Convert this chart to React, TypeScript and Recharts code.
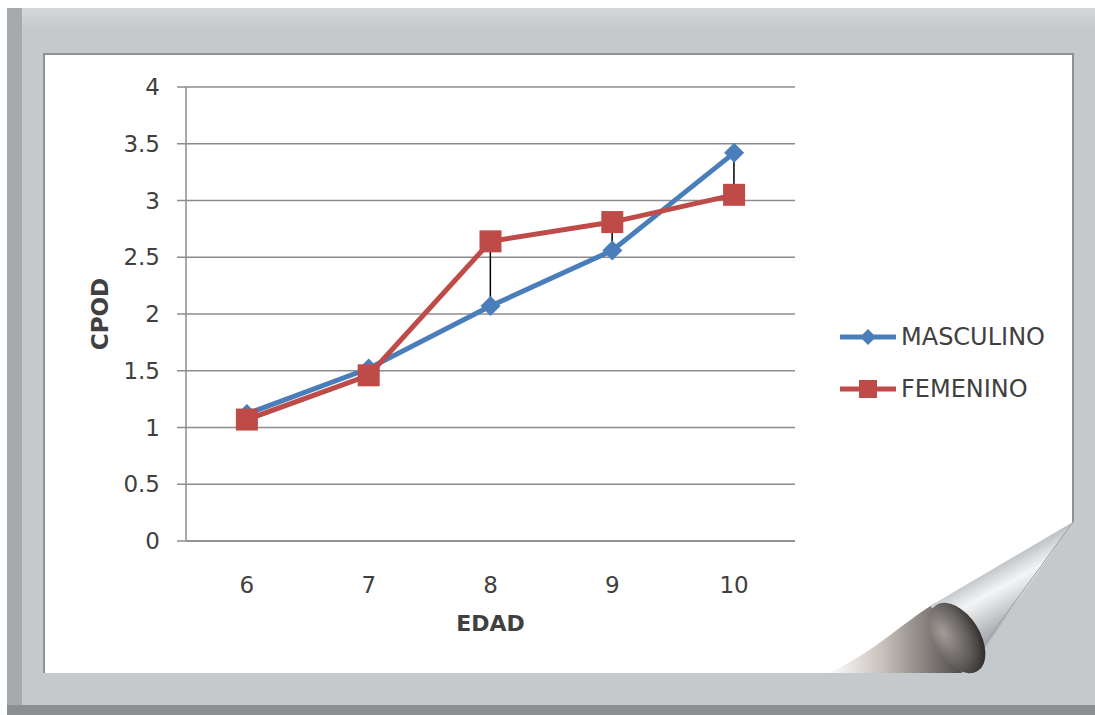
import { ComposedChart, Line, Bar, XAxis, YAxis, CartesianGrid } from "recharts";

const EDADES = ["6", "7", "8", "9", "10"];
const MASCULINO = [1.12, 1.52, 2.07, 2.56, 3.42];
const FEMENINO = [1.07, 1.46, 2.64, 2.81, 3.05];
const Y_TICKS = [0, 0.5, 1, 1.5, 2, 2.5, 3, 3.5, 4];

const COLORS = {
  masc: "#4a7ebb",
  fem: "#be4b48",
  grid: "#8c8c8c",
  text: "#404040",
  frame: "#c6c9cb",
};

const FONT = "'DejaVu Sans', sans-serif";

const data = EDADES.map((edad, i) => ({
  edad,
  masculino: MASCULINO[i],
  femenino: FEMENINO[i],
  rango: [Math.min(MASCULINO[i], FEMENINO[i]), Math.max(MASCULINO[i], FEMENINO[i])],
}));

const Diamond = (props: any) => {
  const { cx, cy, r = 10, fill } = props;
  if (cx == null || cy == null) return null;
  return <polygon points={`${cx},${cy - r} ${cx + r},${cy} ${cx},${cy + r} ${cx - r},${cy}`} fill={fill} />;
};

const Square = (props: any) => {
  const { cx, cy, s = 22, fill } = props;
  if (cx == null || cy == null) return null;
  return <rect x={cx - s / 2} y={cy - s / 2} width={s} height={s} fill={fill} />;
};

const LegendBox = () => {
  const rows = [
    { name: "MASCULINO", color: COLORS.masc, marker: "diamond" },
    { name: "FEMENINO", color: COLORS.fem, marker: "square" },
  ];
  return (
    <div style={{ position: "absolute", left: 838, top: 311, fontFamily: FONT }}>
      {rows.map((row) => (
        <div key={row.name} style={{ display: "flex", alignItems: "center", height: 52 }}>
          <svg width={60} height={26}>
            <line x1={2} y1={13} x2={58} y2={13} stroke={row.color} strokeWidth={5} />
            {row.marker === "diamond" ? (
              <Diamond cx={30} cy={13} r={8} fill={row.color} />
            ) : (
              <Square cx={30} cy={13} s={18} fill={row.color} />
            )}
          </svg>
          <span style={{ fontSize: 24, color: COLORS.text, marginLeft: 3 }}>{row.name}</span>
        </div>
      ))}
    </div>
  );
};

const PageCurl = () => (
  <svg width={1095} height={715} style={{ position: "absolute", left: 0, top: 0, pointerEvents: "none" }}>
    <defs>
      <linearGradient id="tail" x1="0" y1="0" x2="1" y2="0">
        <stop offset="0" stopColor="#ffffff" />
        <stop offset="0.4" stopColor="#c9c2bd" />
        <stop offset="1" stopColor="#4f4b49" />
      </linearGradient>
      <linearGradient id="cone" x1="0.2" y1="0" x2="0.8" y2="1">
        <stop offset="0" stopColor="#6d7174" />
        <stop offset="0.3" stopColor="#a9adb0" />
        <stop offset="0.5" stopColor="#f4f5f6" />
        <stop offset="0.7" stopColor="#b5b8bb" />
        <stop offset="1" stopColor="#7e8184" />
      </linearGradient>
      <radialGradient id="cap" cx="0.3" cy="0.35" r="0.75">
        <stop offset="0" stopColor="#a39d99" />
        <stop offset="0.65" stopColor="#5f5b59" />
        <stop offset="1" stopColor="#2f2d2c" />
      </radialGradient>
    </defs>
    <polygon points="1075,520 1075,674 955,674" fill={COLORS.frame} />
    <path d="M828,673 C870,655 900,625 935,603 L962,673 Z" fill="url(#tail)" />
    <polygon points="1073,522 930,606 982,652" fill="url(#cone)" />
    <line x1={1073} y1={522} x2={964} y2={672} stroke="#9a9da0" strokeWidth={1} />
    <ellipse cx={957} cy={638} rx={23} ry={39} transform="rotate(-32 957 638)" fill="url(#cap)" />
  </svg>
);

export default function App() {
  return (
    <div style={{ position: "absolute", left: 0, top: 0, width: 1095, height: 715, background: "#fff", overflow: "hidden" }}>
      {/* frame */}
      <div style={{ position: "absolute", left: 7, top: 8, width: 1088, height: 707, background: COLORS.frame }} />
      <div style={{ position: "absolute", left: 7, top: 8, width: 1088, height: 18, background: "linear-gradient(#d6d9db, #c8cbcd)" }} />
      <div style={{ position: "absolute", left: 7, top: 8, width: 15, height: 699, background: "#a6a9ab" }} />
      <div style={{ position: "absolute", left: 7, top: 705, width: 1088, height: 10, background: "#8c8f92" }} />
      <div
        style={{
          position: "absolute",
          left: 43,
          top: 53,
          width: 1031,
          height: 620,
          background: "#fff",
          borderTop: "2px solid #8f9294",
          borderLeft: "2px solid #8f9294",
          borderRight: "2px solid #8f9294",
          boxSizing: "border-box",
        }}
      />
      <div style={{ position: "absolute", left: 0, top: 0 }}>
        <ComposedChart
          width={1095}
          height={715}
          data={data}
          margin={{ top: 87, right: 300, bottom: 144, left: 126 }}
          style={{ fontFamily: FONT }}
        >
          <CartesianGrid vertical={false} stroke={COLORS.grid} strokeWidth={1.5} />
          <XAxis
            dataKey="edad"
            scale="band"
            height={30}
            tickLine={false}
            axisLine={{ stroke: COLORS.grid, strokeWidth: 1.5 }}
            tickMargin={30}
            tick={{ fontSize: 23, fill: COLORS.text }}
            label={{
              content: ({ viewBox }: any) => (
                <text
                  x={viewBox.x + viewBox.width / 2}
                  y={viewBox.y + 90}
                  textAnchor="middle"
                  fontSize={22}
                  fontWeight="bold"
                  fill={COLORS.text}
                  fontFamily={FONT}
                >
                  EDAD
                </text>
              ),
            }}
          />
          <YAxis
            width={60}
            domain={[0, 4]}
            ticks={Y_TICKS}
            interval={0}
            tickSize={9}
            tickMargin={17}
            tickLine={{ stroke: COLORS.grid, strokeWidth: 1.5 }}
            axisLine={{ stroke: COLORS.grid, strokeWidth: 1.5 }}
            tick={{ fontSize: 23, fill: COLORS.text }}
            label={{
              content: ({ viewBox }: any) => {
                const x = viewBox.x - 26;
                const y = viewBox.y + viewBox.height / 2;
                return (
                  <text
                    x={x}
                    y={y}
                    transform={`rotate(-90 ${x} ${y})`}
                    textAnchor="middle"
                    dominantBaseline="central"
                    fontSize={23}
                    fontWeight="bold"
                    fill={COLORS.text}
                    fontFamily={FONT}
                  >
                    CPOD
                  </text>
                );
              },
            }}
          />
          <Line
            type="linear"
            dataKey="masculino"
            name="MASCULINO"
            stroke={COLORS.masc}
            strokeWidth={5}
            dot={<Diamond r={10} fill={COLORS.masc} />}
            activeDot={false}
            isAnimationActive={false}
          />
          <Line
            type="linear"
            dataKey="femenino"
            name="FEMENINO"
            stroke={COLORS.fem}
            strokeWidth={5}
            dot={<Square s={22} fill={COLORS.fem} />}
            activeDot={false}
            isAnimationActive={false}
          />
          <Bar dataKey="rango" barSize={1.5} fill="#000" legendType="none" isAnimationActive={false} />
        </ComposedChart>
      </div>
      <LegendBox />
      <PageCurl />
    </div>
  );
}
